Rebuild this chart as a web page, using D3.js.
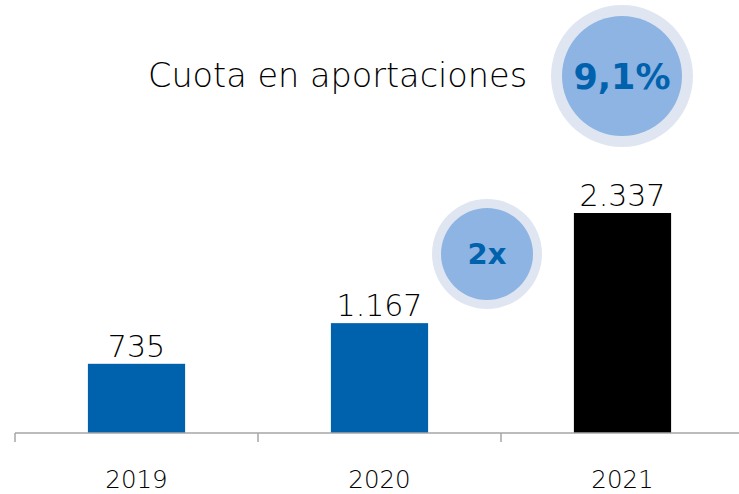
<!DOCTYPE html>
<html>
<head>
<meta charset="utf-8">
<script src="https://cdn.jsdelivr.net/npm/d3@7"></script>
<style>
  body { margin: 0; background: #fff; }
  svg { display: block; }
  text { font-family: 'DejaVu Sans', sans-serif; }
</style>
</head>
<body>
<svg width="739" height="494"></svg>
<script>
  'use strict'

  const years = ['2019', '2020', '2021']
  const values = [735, 1167, 2337]
  const barColors = ['#0061ad', '#0061ad', '#000000']
  const valueLabels = ['735', '1.167', '2.337']
  const title = 'Cuota en aportaciones'
  const shareLabel = '9,1%'
  const growthLabel = '2x'

  const svg = d3.select('svg')

  const baseY = 433
  const x = d3.scaleBand().
    domain(years).
    range([15, 744]).
    padding(0)

  const y = d3.scaleLinear().
    domain([0, d3.max(values)]).
    range([baseY, 213])

  const barW = x.bandwidth() * 0.4

  const data = years.map((yr, i) => ({ yr, v: values[i], c: barColors[i], l: valueLabels[i] }))

  svg.selectAll('rect.bar').
    data(data).
    enter().
    append('rect').
    attr('class', 'bar').
    attr('x', d => x(d.yr) + x.bandwidth() / 2 - barW / 2).
    attr('y', d => y(d.v)).
    attr('width', barW).
    attr('height', d => baseY - y(d.v)).
    attr('fill', d => d.c)

  svg.selectAll('text.val').
    data(data).
    enter().
    append('text').
    attr('class', 'val').
    attr('x', d => x(d.yr) + x.bandwidth() / 2).
    attr('y', d => y(d.v) - 7).
    attr('text-anchor', 'middle').
    attr('font-size', 30).
    attr('font-weight', 200).
    attr('fill', '#000').
    text(d => d.l)

  // axis
  const axis = svg.append('g')
  axis.append('line').
    attr('x1', 15).attr('x2', 739).
    attr('y1', baseY).attr('y2', baseY).
    attr('stroke', '#a6a6a6').attr('stroke-width', 1.5)
  axis.selectAll('line.tick').
    data(years).
    enter().
    append('line').
    attr('class', 'tick').
    attr('x1', d => x(d)).attr('x2', d => x(d)).
    attr('y1', baseY).attr('y2', baseY + 9).
    attr('stroke', '#a6a6a6').attr('stroke-width', 1.5)
  axis.selectAll('text.yr').
    data(years).
    enter().
    append('text').
    attr('class', 'yr').
    attr('x', d => x(d) + x.bandwidth() / 2).
    attr('y', 488).
    attr('text-anchor', 'middle').
    attr('font-size', 24.5).
    attr('font-weight', 200).
    attr('fill', '#000').
    text(d => d)

  // title
  svg.append('text').
    attr('x', 148).
    attr('y', 87).
    attr('font-size', 33.5).
    attr('font-weight', 200).
    attr('fill', '#000').
    text(title)

  function badge(cx, cy, rOut, rIn, label, size) {
    const g = svg.append('g').attr('transform', `translate(${cx},${cy})`)
    g.append('circle').attr('r', rOut).attr('fill', '#dfe6f1')
    g.append('circle').attr('r', rIn).attr('fill', '#8db4e2')
    g.append('text').
      attr('text-anchor', 'middle').
      attr('dy', '0.36em').
      attr('font-weight', 'bold').
      attr('font-size', size).
      attr('fill', '#0061ad').
      text(label)
  }

  badge(622, 76, 71, 60, shareLabel, 35)
  badge(487, 254, 55, 46, growthLabel, 29)
</script>
</body>
</html>
